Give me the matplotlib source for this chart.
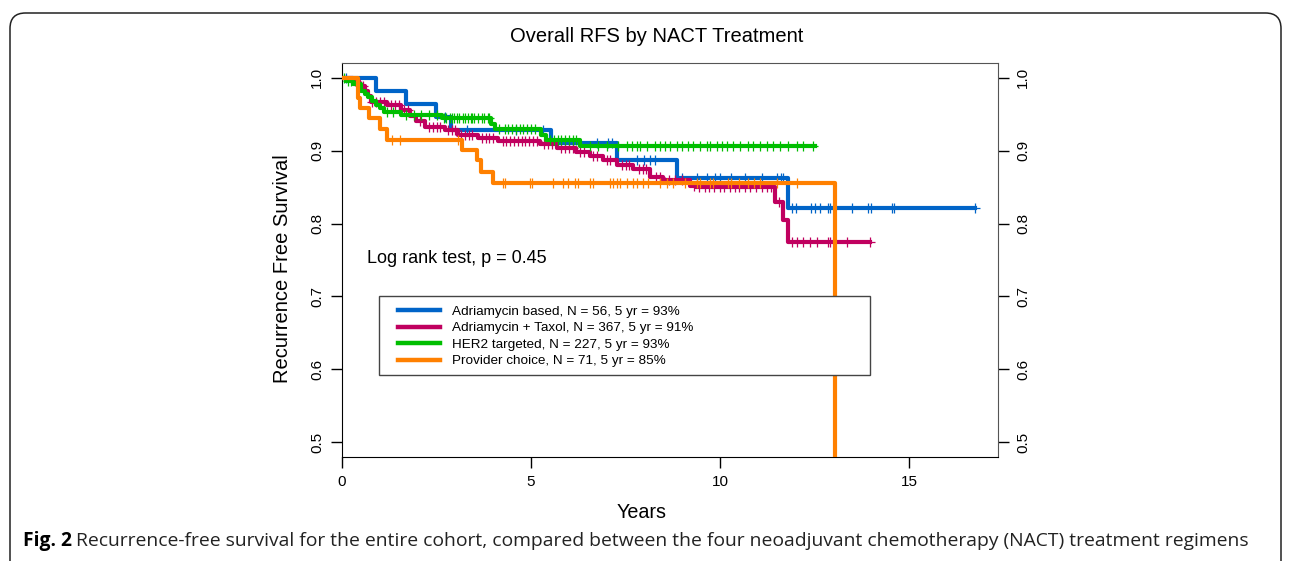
"""Overall RFS by NACT treatment: Kaplan-Meier style step curves."""

import numpy as np
import matplotlib
matplotlib.use("Agg")
import matplotlib.pyplot as plt
from matplotlib.patches import FancyBboxPatch, Rectangle

plt.rcParams["font.family"] = ["Liberation Sans", "DejaVu Sans"]

# ---- data (years, survival) ----
groups = ["Adriamycin based", "Adriamycin + Taxol", "HER2 targeted", "Provider choice"]
n_patients = [56, 367, 227, 71]
five_yr = [93, 91, 93, 85]
colors = ["#0064C8", "#C0005F", "#00BE00", "#FF8000"]

blue_t = [0, 0.91, 1.70, 2.49, 2.89, 5.54, 7.27, 8.85, 11.80, 16.75]
blue_s = [1.0, 0.982, 0.964, 0.946, 0.928, 0.910, 0.887, 0.862, 0.821, 0.821]
blue_cens = [0.1, 2.72, 3.3, 4.6, 5.32, 6.1, 6.74, 7.04, 7.14, 7.8, 8.0, 8.15, 8.28,
             9.0, 9.4, 9.66, 9.87, 10.0, 10.3, 10.66, 11.1, 11.5, 11.6, 11.67,
             11.9, 12.0, 12.4, 12.5, 12.65, 12.86, 12.9, 13.5, 13.9, 14.0, 14.55,
             14.6, 16.75]

mag_t = [0, 0.30, 0.45, 0.60, 0.70, 0.77, 1.20, 1.56, 1.80, 1.96, 2.20, 2.72, 3.07,
         3.60, 4.13, 5.24, 5.68, 6.20, 6.56, 6.90, 7.27, 7.70, 8.15, 8.50, 9.20,
         9.35, 11.45, 11.67, 11.80, 13.97]
mag_s = [1.0, 0.995, 0.988, 0.982, 0.975, 0.966, 0.962, 0.955, 0.948, 0.941, 0.932,
         0.928, 0.921, 0.917, 0.913, 0.909, 0.903, 0.898, 0.893, 0.887, 0.880,
         0.875, 0.864, 0.859, 0.852, 0.850, 0.830, 0.805, 0.775, 0.775]
mag_cens = [0.35, 0.5, 0.55, 0.8, 0.9, 1.0, 1.1, 1.3, 1.4, 1.5, 1.65, 1.75, 2.05, 2.3,
            2.4, 2.5, 2.6, 2.8, 2.9, 3.0, 3.15, 3.25, 3.35, 3.45, 3.7, 3.8, 3.9,
            4.0, 4.25, 4.35, 4.45, 4.55, 4.65, 4.75, 4.85, 4.95, 5.05, 5.15, 5.35,
            5.45, 5.55, 5.8, 5.9, 6.0, 6.1, 6.3, 6.4, 6.65, 6.75, 7.0, 7.1, 7.4,
            7.5, 7.6, 7.85, 7.95, 8.05, 8.3, 8.4, 8.65, 8.8, 9.0, 9.3, 9.45, 9.6,
            9.7, 9.85, 10.0, 10.1, 10.25, 10.4, 10.5, 10.65, 10.8, 10.95, 11.1,
            11.25, 11.35, 11.55, 11.9, 12.04, 12.2, 12.38, 12.57, 12.86, 12.9,
            13.36, 13.97]

grn_t = [0, 0.10, 0.30, 0.50, 0.60, 0.70, 0.80, 0.90, 1.00, 1.10, 1.55, 2.65, 3.95,
         4.05, 5.25, 5.40, 6.30, 12.50]
grn_s = [1.0, 0.996, 0.991, 0.982, 0.978, 0.973, 0.968, 0.963, 0.958, 0.953, 0.949,
         0.944, 0.936, 0.930, 0.922, 0.915, 0.906, 0.906]
grn_cens = [0.05, 0.15, 0.25, 0.4, 1.2, 1.35, 1.7, 1.9, 2.1, 2.3, 2.5, 2.7, 2.75,
            2.85, 2.9, 2.97, 3.05, 3.1, 3.2, 3.25, 3.32, 3.4, 3.45, 3.5, 3.6, 3.7,
            3.75, 3.85, 3.9, 4.15, 4.3, 4.4, 4.5, 4.6, 4.7, 4.8, 4.9, 5.0, 5.1,
            5.5, 5.6, 5.7, 5.8, 5.9, 6.0, 6.1, 6.2, 6.56, 6.77, 7.0, 7.3, 7.54,
            7.67, 7.8, 7.88, 8.07, 8.28, 8.41, 8.54, 8.68, 8.86, 9.0, 9.15, 9.28,
            9.47, 9.66, 9.74, 9.92, 10.05, 10.18, 10.34, 10.53, 10.74, 10.87, 11.06,
            11.24, 11.4, 11.58, 11.8, 12.03, 12.19, 12.45]

org_t = [0, 0.42, 0.48, 0.72, 1.00, 1.20, 3.17, 3.56, 3.68, 4.00, 13.05]
org_s = [1.0, 0.972, 0.958, 0.944, 0.930, 0.915, 0.901, 0.887, 0.871, 0.855, 0.0]
org_cens = [1.31, 1.53, 3.07, 4.27, 4.3, 4.97, 5.02, 5.58, 5.85, 5.98, 6.16, 6.24,
            6.56, 6.64, 7.1, 7.17, 7.27, 7.35, 7.54, 7.7, 7.8, 7.96, 8.1, 8.4, 8.6,
            8.76, 9.07, 9.4, 9.47, 9.74, 9.82, 10.2, 10.3, 10.5, 10.74, 10.9, 11.06,
            11.5, 12.03]

curves = [(blue_t, blue_s, blue_cens), (mag_t, mag_s, mag_cens),
          (grn_t, grn_s, grn_cens), (org_t, org_s, org_cens)]

x_ticks = [0, 5, 10, 15]
y_ticks = [0.5, 0.6, 0.7, 0.8, 0.9, 1.0]

fig = plt.figure(figsize=(12.9, 5.61), dpi=100)
ax = fig.add_axes([342 / 1290, 1 - 457 / 561, 656 / 1290, 394 / 561])

for i, (t, s, cens) in enumerate(curves):
    t = np.asarray(t)
    s = np.asarray(s)
    ax.step(t, s, where="post", color=colors[i], lw=3.0, zorder=2 + i,
            label=f"{groups[i]}, N = {n_patients[i]}, 5 yr = {five_yr[i]}%")
    c = np.asarray(cens)
    idx = np.searchsorted(t, c, side="right") - 1
    ax.plot(c, s[idx], ls="none", marker="+", ms=6.5, mew=0.9,
            color=colors[i], zorder=2 + i)

ax.set_xlim(0, 17.35)
ax.set_ylim(0.48, 1.02)
ax.set_xticks(x_ticks)
ax.set_xticklabels([str(v) for v in x_ticks])
ax.set_yticks(y_ticks)
ax.set_yticklabels([f"{v:.1f}" for v in y_ticks])
ax.tick_params(axis="x", direction="out", length=8, width=1, labelsize=11, pad=5)
ax.tick_params(axis="y", direction="out", length=8, width=1, labelsize=11, pad=5,
               right=True, labelright=True, labelrotation=90)
for lab in ax.get_yticklabels():
    lab.set_va("center")
for side in ["left", "bottom"]:
    ax.spines[side].set_color("black")
for side in ["top", "right"]:
    ax.spines[side].set_color("#555555")

ax.text(0.038, 0.505, "Log rank test, p = 0.45", transform=ax.transAxes,
        fontsize=13, ha="left", va="center")

# legend frame drawn separately so the entries can sit further in
ax.add_patch(Rectangle((0.0564, 0.2081), 0.7485, 0.2005, transform=ax.transAxes,
                       facecolor="white", edgecolor="#444444", lw=1.0, zorder=9))
leg = ax.legend(loc="upper left", bbox_to_anchor=(0.0716, 0.4086),
                borderaxespad=0, fontsize=9.7, frameon=False,
                handlelength=3.1, handletextpad=0.85, labelspacing=0.3,
                borderpad=0.7)
for line in leg.get_lines():
    line.set_linewidth(3.2)
leg.set_zorder(10)

fig.text(657 / 1290, 1 - 37 / 561, "Overall RFS by NACT Treatment",
         fontsize=14.5, ha="center", va="center")
fig.text(642 / 1290, 1 - 513 / 561, "Years", fontsize=14.2, ha="center", va="center")
fig.text(283 / 1290, 1 - 269 / 561, "Recurrence Free Survival", fontsize=14.5,
         rotation=90, ha="center", va="center")

# journal frame
frame = FancyBboxPatch((10 / 1290, -0.2), 1271 / 1290, 1 - 13 / 561 + 0.2,
                       boxstyle="round,pad=0,rounding_size=0.012",
                       transform=fig.transFigure, fill=False,
                       edgecolor="#222222", linewidth=1.1, clip_on=False,
                       mutation_aspect=1290 / 561)
fig.patches.append(frame)

# caption: bold label followed by regular text
renderer = fig.canvas.get_renderer()
cap_y = 1 - 541 / 561
bold = fig.text(23 / 1290, cap_y, "Fig. 2", fontsize=13.85, fontweight="bold",
                family=["Open Sans", "DejaVu Sans"], ha="left", va="center")
bb = bold.get_window_extent(renderer=renderer)
fig.text((bb.x1 + 4) / 1290, cap_y,
         "Recurrence-free survival for the entire cohort, compared between the four "
         "neoadjuvant chemotherapy (NACT) treatment regimens",
         fontsize=13.85, family=["Open Sans", "DejaVu Sans"], ha="left",
         va="center", color="#222222")

fig.savefig("out.png", dpi=100)
